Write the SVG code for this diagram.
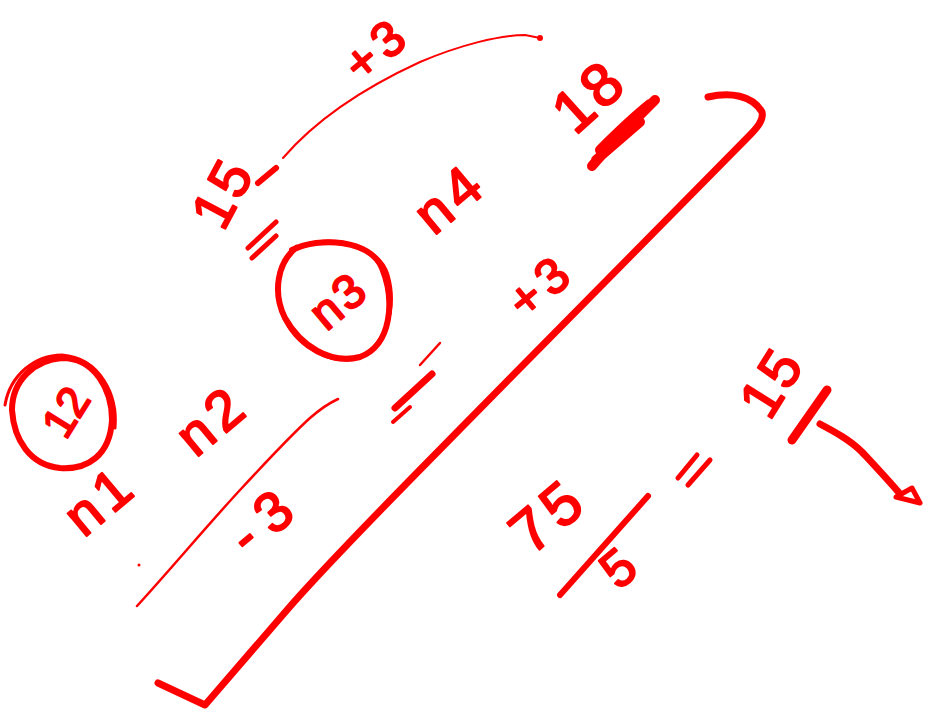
<svg xmlns="http://www.w3.org/2000/svg" width="935" height="721" viewBox="0 0 935 721">
<style>
.t{font-family:"Liberation Sans","DejaVu Sans",sans-serif;fill:#ff0000;stroke:#ff0000;stroke-width:2;stroke-linejoin:round;text-anchor:middle}
.s{fill:none;stroke:#ff0000;stroke-linecap:round;stroke-linejoin:round}
.thick{stroke-width:7}
.thin{stroke-width:2}
</style>
<rect width="935" height="721" fill="#ffffff"/>
<g id="connectors">
  <path class="s thin" d="M283,158 C320,115 370,85 420,62 C460,45 500,35 525,35 L540,38"/>
  <circle cx="540" cy="38" r="3" fill="#ff0000"/>
  <path class="s thick" d="M708,97 C730,92 752,95 762,112 C764,120 757,128 748,137 L462,427 C420,470 330,560 287,610 L205,705 L158,683"/>
  <path class="s" stroke-width="2.5" d="M338,399 C325,405 318,411 310,418 C290,436 265,463 240,490 C205,528 170,570 137,606"/>
  <circle cx="139" cy="565" r="1.5" fill="#ff0000"/>
  <path class="s thick" d="M820,424 C835,432 850,440 862,452 C875,466 890,482 900,494"/>
  <path class="s" stroke-width="5" d="M896,497 L912,488 L920,503 Z"/>
</g>
<g id="plus3-top"><text class="t" font-size="50" letter-spacing="6" transform="translate(376,48) rotate(-40)" y="18">+3</text></g>
<g id="n15-top">
  <text class="t" font-size="56" letter-spacing="4" transform="translate(222,192) rotate(-62)" y="20">15</text>
  <path class="s" stroke-width="6" d="M258,183 L276,168"/>
</g>
<g id="eq-top">
  <path class="s" stroke-width="5" d="M248,248 L276,222 M252,258 L276,236"/>
</g>
<g id="n18">
  <text class="t" font-size="60" letter-spacing="4" transform="translate(588,95) rotate(-42)" y="22">18</text>
  <path class="s" stroke-width="10" d="M592,166 C610,145 635,120 655,100 M600,150 C620,130 640,112 650,104 M596,160 L640,122"/>
</g>
<g id="n4"><text class="t" font-size="56" letter-spacing="6" transform="translate(450,198) rotate(-40)" y="19">n4</text></g>
<g id="n3">
  <path class="s" stroke-width="6" d="M292,250 C320,236 370,240 382,268 C395,300 392,345 360,357 C330,365 300,345 285,318 C272,292 278,262 296,248"/>
  <path class="s" stroke-width="3" d="M295,248 C330,232 380,245 388,275 C398,310 385,352 350,360 C320,362 290,340 281,310"/>
  <text class="t" font-size="48" letter-spacing="3" transform="translate(338,300) rotate(-40)" y="17">n3</text>
</g>
<g id="plus3-mid"><text class="t" font-size="50" letter-spacing="6" transform="translate(540,285) rotate(-40)" y="18">+3</text></g>
<g id="marks-mid">
  <path class="s" stroke-width="2.5" d="M420,365 L440,343"/>
  <path class="s" stroke-width="7" d="M395,408 L432,374"/>
  <path class="s" stroke-width="4" d="M393,422 L410,407"/>
</g>
<g id="n12">
  <path class="s" stroke-width="6" d="M62,358 C95,358 112,390 112,420 C110,455 88,470 60,468 C30,465 14,440 12,410 C12,380 35,360 62,358"/>
  <path class="s" stroke-width="3" d="M5,405 C10,375 35,355 62,355 C100,358 118,395 115,428"/>
  <text class="t" font-size="44" transform="translate(66,412) rotate(-58)" y="15">12</text>
</g>
<g id="n2"><text class="t" font-size="56" letter-spacing="6" transform="translate(212,420) rotate(-40)" y="19">n2</text></g>
<g id="n1"><text class="t" font-size="56" letter-spacing="6" transform="translate(100,500) rotate(-40)" y="19">n1</text></g>
<g id="minus3"><text class="t" font-size="56" letter-spacing="14" transform="translate(266,518) rotate(-40)" y="19">-3</text></g>
<g id="n75">
  <text class="t" font-size="60" letter-spacing="6" transform="translate(548,515) rotate(-40)" y="21">75</text>
  <path class="s" stroke-width="6" d="M560,595 L648,496"/>
  <text class="t" font-size="52" transform="translate(618,568) rotate(-40)" y="18">5</text>
</g>
<g id="eq-bottom"><path class="s" stroke-width="5" d="M678,478 L697,455 M688,485 L710,460"/></g>
<g id="n15-bottom">
  <text class="t" font-size="56" letter-spacing="4" transform="translate(772,382) rotate(-58)" y="19">15</text>
  <path class="s" stroke-width="9" d="M792,440 L827,390"/>
</g>
</svg>
